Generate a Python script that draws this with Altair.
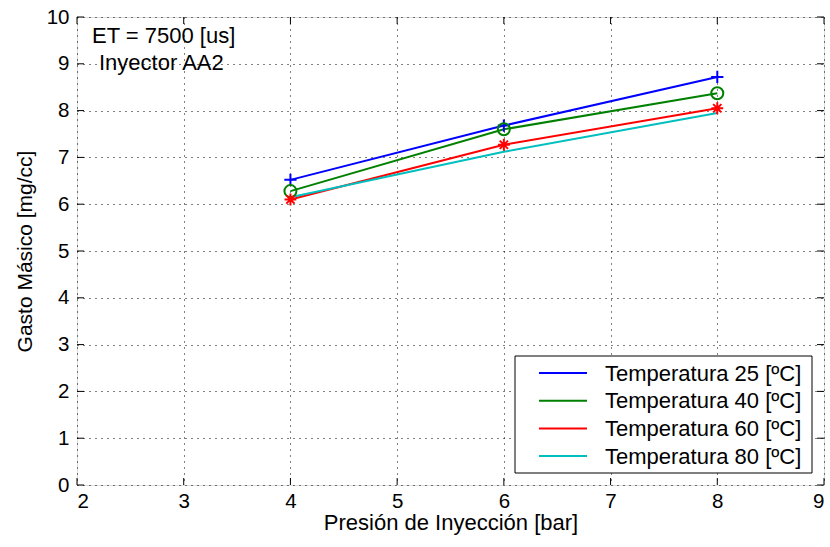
import altair as alt
import pandas as pd

pressure = [4, 6, 8]
t25 = [6.52, 7.68, 8.72]
t40 = [6.28, 7.60, 8.37]
t60 = [6.10, 7.27, 8.05]
t80 = [6.15, 7.12, 7.95]
series_names = ["Temperatura 25 [ºC]", "Temperatura 40 [ºC]", "Temperatura 60 [ºC]", "Temperatura 80 [ºC]"]
series_colors = ["#0000ff", "#008000", "#ff0000", "#00bfbf"]
x_ticks = [2, 3, 4, 5, 6, 7, 8, 9]
y_ticks = [0, 1, 2, 3, 4, 5, 6, 7, 8, 9, 10]

rows = []
for name, vals in zip(series_names, [t25, t40, t60, t80]):
    for p, v in zip(pressure, vals):
        rows.append({"p": p, "g": v, "serie": name})
df = pd.DataFrame(rows)

W, H = 747, 468
FONT = "Liberation Sans"
FS_TICK = 20.5
FS_TXT = 22

xs = alt.Scale(domain=[2, 9], nice=False)
ys = alt.Scale(domain=[0, 10], nice=False)

axis_common = dict(grid=True, gridDash=[1, 5], gridColor="#000", gridOpacity=1,
                   ticks=False, domain=False, labelFontSize=FS_TICK, labelFont=FONT,
                   labelColor="#000", titleFont=FONT,
                   titleFontWeight="normal", titleColor="#000", format="d")

lines = alt.Chart(df).mark_line(strokeWidth=2).encode(
    x=alt.X("p:Q", scale=xs, axis=alt.Axis(values=x_ticks, title="Presión de Inyección [bar]",
                                            labelPadding=6, titlePadding=1, titleFontSize=FS_TXT,
                                            **axis_common)),
    y=alt.Y("g:Q", scale=ys, axis=alt.Axis(values=y_ticks, title="Gasto Másico [mg/cc]",
                                            labelPadding=8, titlePadding=11, titleFontSize=21,
                                            **axis_common)),
    color=alt.Color("serie:N", scale=alt.Scale(domain=series_names, range=series_colors),
                    legend=None),
)

plus_path = "M-1,0L1,0M0,-1L0,1"
star_path = "M-1,0L1,0M0,-1L0,1M-0.7,-0.7L0.7,0.7M-0.7,0.7L0.7,-0.7"

pts25 = alt.Chart(df[df.serie == series_names[0]]).mark_point(
    shape=plus_path, size=150, stroke=series_colors[0], strokeWidth=2, filled=False, opacity=1).encode(
    x=alt.X("p:Q", scale=xs), y=alt.Y("g:Q", scale=ys))
pts40 = alt.Chart(df[df.serie == series_names[1]]).mark_point(
    shape="circle", size=144, stroke=series_colors[1], strokeWidth=2, filled=False, opacity=1).encode(
    x=alt.X("p:Q", scale=xs), y=alt.Y("g:Q", scale=ys))
pts60 = alt.Chart(df[df.serie == series_names[2]]).mark_point(
    shape=star_path, size=140, stroke=series_colors[2], strokeWidth=2, filled=False, opacity=1).encode(
    x=alt.X("p:Q", scale=xs), y=alt.Y("g:Q", scale=ys))

# inward ticks (MATLAB style)
xt = pd.DataFrame({"t": x_ticks})
yt = pd.DataFrame({"t": y_ticks})
tick_len = 7
xt_bot = alt.Chart(xt).mark_rule(color="#000", strokeWidth=1).encode(
    x=alt.X("t:Q", scale=xs), y=alt.value(H), y2=alt.value(H - tick_len))
xt_top = alt.Chart(xt).mark_rule(color="#000", strokeWidth=1).encode(
    x=alt.X("t:Q", scale=xs), y=alt.value(0), y2=alt.value(tick_len))
yt_left = alt.Chart(yt).mark_rule(color="#000", strokeWidth=1).encode(
    y=alt.Y("t:Q", scale=ys), x=alt.value(0), x2=alt.value(tick_len))
yt_right = alt.Chart(yt).mark_rule(color="#000", strokeWidth=1).encode(
    y=alt.Y("t:Q", scale=ys), x=alt.value(W), x2=alt.value(W - tick_len))

# annotation text
ann = pd.DataFrame({"txt": ["ET = 7500 [us]", "Inyector AA2"], "px": [15, 22], "py": [26, 53]})
notes = alt.Chart(ann).mark_text(align="left", baseline="alphabetic", fontSize=FS_TXT, font=FONT, color="#000").encode(
    text="txt:N", x=alt.X("px:Q", scale=None), y=alt.Y("py:Q", scale=None))

# manual legend (MATLAB style box)
LX0, LX1, LY0, LY1 = 438, 735, 339, 456
row_h = 27.7
leg = pd.DataFrame({
    "serie": series_names,
    "ly": [LY0 + 17 + i * row_h for i in range(len(series_names))],
})
leg["lx0"] = LX0 + 24
leg["lx1"] = LX0 + 72
leg["tx"] = LX0 + 90
leg["ty"] = leg["ly"] + 7.5

leg_box = alt.Chart(pd.DataFrame({"a": [0]})).mark_rect(fill="white", stroke="#000", strokeWidth=1).encode(
    x=alt.value(LX0), x2=alt.value(LX1), y=alt.value(LY0), y2=alt.value(LY1))
leg_lines = alt.Chart(leg).mark_rule(strokeWidth=2).encode(
    x=alt.X("lx0:Q", scale=None), x2="lx1:Q", y=alt.Y("ly:Q", scale=None),
    color=alt.Color("serie:N", scale=alt.Scale(domain=series_names, range=series_colors), legend=None))
leg_text = alt.Chart(leg).mark_text(align="left", baseline="alphabetic", fontSize=FS_TXT, font=FONT, color="#000").encode(
    x=alt.X("tx:Q", scale=None), y=alt.Y("ty:Q", scale=None), text="serie:N")

chart = alt.layer(lines, pts25, pts40, pts60, xt_bot, xt_top, yt_left, yt_right, notes,
                  leg_box, leg_lines, leg_text).properties(
    width=W, height=H,
    autosize=alt.AutoSizeParams(type="none"),
    padding={"left": 77, "top": 17, "right": 6, "bottom": 62},
).configure_view(stroke="#000", strokeWidth=1.2).configure(background="white")

chart.save("out.html", embed_options={"renderer": "svg", "actions": False})
